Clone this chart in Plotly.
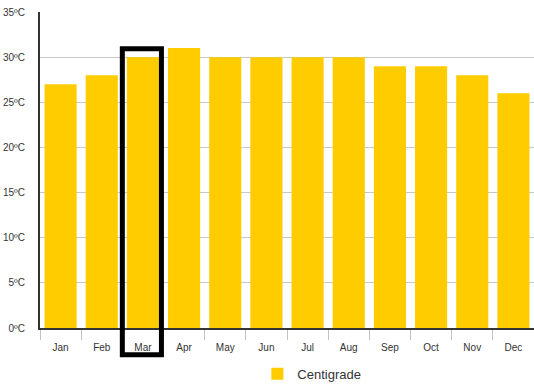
import plotly.graph_objects as go

months = ["Jan", "Feb", "Mar", "Apr", "May", "Jun", "Jul", "Aug", "Sep", "Oct", "Nov", "Dec"]
centigrade = [27, 28, 30, 31, 30, 30, 30, 30, 29, 29, 28, 26]
y_ticks = [0, 5, 10, 15, 20, 25, 30, 35]
y_tick_labels = [f"{v}ºC" for v in y_ticks]
highlight_month = "Mar"

fig = go.Figure()
fig.add_trace(go.Bar(
    x=months, y=centigrade, name="Centigrade",
    marker=dict(color="#FFCC00", line=dict(width=0)),
    showlegend=True,
))

hi = months.index(highlight_month)
fig.add_shape(type="rect", xref="x", yref="paper",
              x0=hi - 0.5, x1=hi + 0.45, y0=-0.085, y1=0.884,
              line=dict(color="black", width=5), fillcolor="rgba(0,0,0,0)")

fig.update_layout(
    width=534, height=389,
    margin=dict(l=40, r=0, t=12, b=59),
    paper_bgcolor="white", plot_bgcolor="white",
    font=dict(family="Liberation Sans, Arial, sans-serif", color="#333", size=10),
    bargap=0.22,
    showlegend=True,
    legend=dict(orientation="h", x=0.44, xanchor="left", y=-0.145, yanchor="middle",
                font=dict(size=13, color="#333")),
)
fig.update_xaxes(
    type="category", showline=True, linecolor="#333", linewidth=2,
    ticks="outside", tickson="boundaries", ticklen=10, tickcolor="#C0C0C0",
    ticklabelstandoff=9,
    showgrid=False, tickfont=dict(size=10, color="#333"),
)
fig.update_yaxes(
    range=[0, 35], tickvals=y_ticks, ticktext=y_tick_labels,
    showline=True, linecolor="#333", linewidth=2,
    showgrid=True, gridcolor="#C8C8C8", gridwidth=1, zeroline=False,
    ticks="", ticklabelstandoff=11, tickfont=dict(size=10, color="#333"),
)

fig.write_html("out.html")
